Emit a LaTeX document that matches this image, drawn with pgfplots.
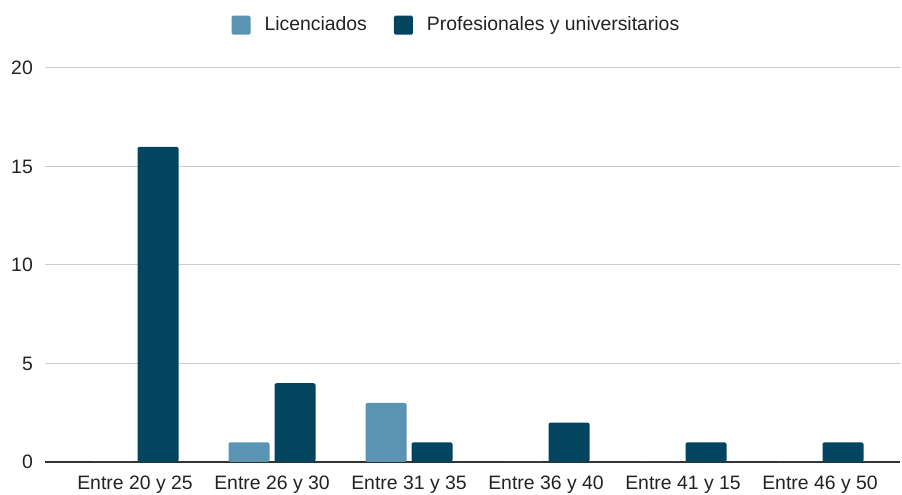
\documentclass[border=0pt]{standalone}
\usepackage{pgfplots}
\pgfplotsset{compat=1.18}
\usepackage{fontspec}
\setmainfont{Liberation Sans}
\definecolor{lic}{HTML}{5A94B2}
\definecolor{prof}{HTML}{03455F}
\definecolor{gridc}{HTML}{CCCCCC}
\definecolor{basec}{HTML}{333333}
\definecolor{txt}{HTML}{222222}
\begin{document}
\fontsize{19.4}{23}\selectfont
\begin{tikzpicture}
\begin{axis}[
  at={(0pt,0pt)}, anchor=south west,
  scale only axis, width=855pt, height=394pt,
  xmin=-0.657, xmax=5.584, ymin=0, ymax=20,
  ytick={0,5,10,15,20},
  xtick={0,1,2,3,4,5},
  xticklabels={Entre 20 y 25,Entre 26 y 30,Entre 31 y 35,Entre 36 y 40,Entre 41 y 15,Entre 46 y 50},
  ybar=5pt, bar width=41pt,
  axis x line*=bottom, axis y line*=left,
  x axis line style={basec, line width=1.1pt, -},
  y axis line style={draw=none},
  major tick length=0pt,
  ymajorgrids, grid style={gridc, line width=1pt},
  /pgf/number format/assume math mode=true,
  tick label style={font=\fontsize{19.4}{23}\selectfont, text=txt},
  yticklabel style={inner sep=0pt, xshift=-12pt},
  xticklabel style={inner sep=0pt, yshift=-14pt},
  legend style={at={(0.48,1.109)}, anchor=center, draw=none, fill=none,
    legend columns=2, font=\fontsize{19.4}{23}\selectfont, text=txt,
    nodes={inner sep=0pt},
    /tikz/every odd column/.append style={column sep=14pt},
    /tikz/every even column/.append style={column sep=27pt}},
]
\addplot[fill=lic, draw=none, rounded corners=2pt,
  legend image code/.code={\fill[lic, rounded corners=1.5pt] (0pt,-9.5pt) rectangle (19pt,9.5pt);}]
  coordinates {(0,0) (1,1) (2,3) (3,0) (4,0) (5,0)};
\addlegendentry{Licenciados}
\addplot[fill=prof, draw=none, rounded corners=2pt,
  legend image code/.code={\fill[prof, rounded corners=1.5pt] (0pt,-9.5pt) rectangle (19pt,9.5pt);}]
  coordinates {(0,16) (1,4) (2,1) (3,2) (4,1) (5,1)};
\addlegendentry{Profesionales y universitarios}
\end{axis}
\path[use as bounding box] (-45pt,-33pt) rectangle (857pt,462pt);
\end{tikzpicture}
\end{document}
